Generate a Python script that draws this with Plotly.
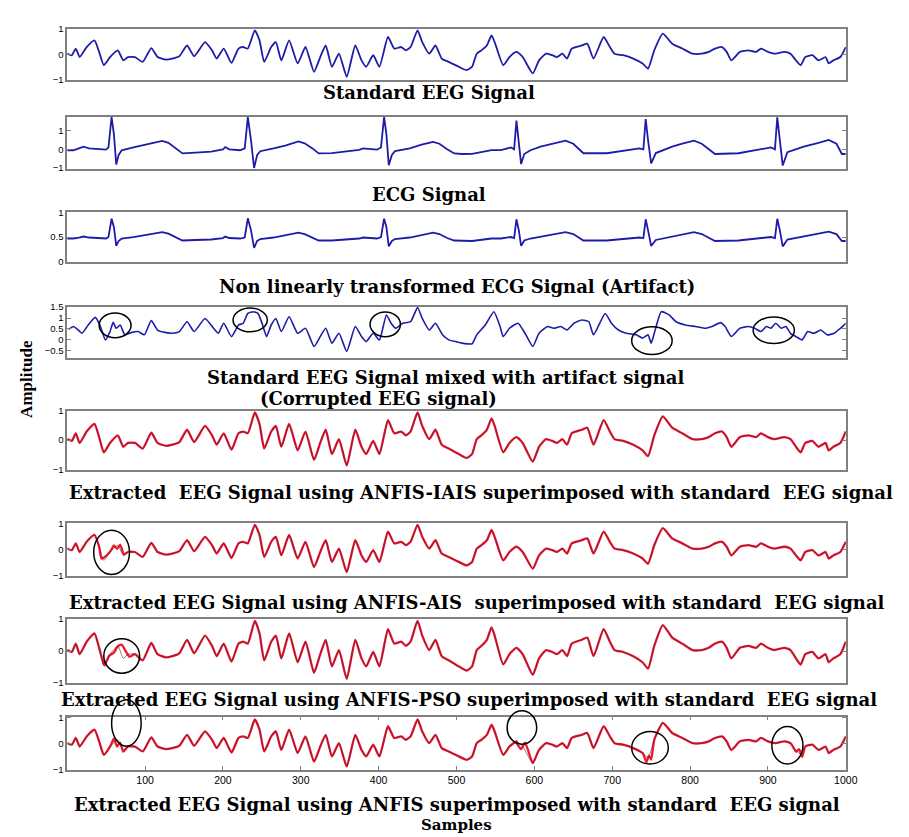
import plotly.graph_objects as go

W, H = 909, 837

# ---------------- data ----------------
eeg_samples = [0, 6, 11, 16, 25, 35, 41, 47, 55, 65, 72, 78, 87, 97, 108, 116, 127, 135, 144, 154,
               163, 177, 186, 192, 201, 211, 220, 226, 232, 241, 247, 253, 262, 268, 275, 285, 296, 306,
               317, 325, 332, 340, 349, 359, 370, 378, 384, 393, 401, 412, 420, 429, 435, 441, 450, 456,
               465, 473, 481, 490, 503, 513, 520, 526, 532, 539, 545, 549, 560, 568, 577, 585, 598, 606,
               615, 623, 629, 636, 642, 648, 661, 668, 676, 689, 697, 703, 714, 727, 739, 746, 754, 765,
               777, 790, 803, 815, 824, 832, 841, 847, 853, 864, 875, 885, 891, 900, 908, 921, 929, 936,
               942, 948, 957, 965, 974, 978, 984, 993, 1000]
eeg_values = [0.03, -0.03, 0.23, -0.10, 0.29, 0.55, 0.10, -0.42, -0.10, 0.16, -0.23, -0.10, -0.10, -0.29,
              0.25, -0.10, -0.20, -0.16, -0.07, 0.35, -0.07, 0.48, 0.16, -0.16, 0.23, -0.33, 0.23, 0.29,
              0.23, 0.94, 0.55, -0.29, 0.29, 0.48, -0.23, 0.55, -0.35, 0.29, -0.68, -0.10, 0.35, -0.48,
              0.03, -0.87, 0.35, -0.23, -0.48, -0.03, -0.48, 0.68, 0.23, 0.29, 0.16, 0.29, 0.94, 0.48,
              0.03, 0.35, -0.16, -0.29, -0.48, -0.61, -0.48, 0.03, 0.16, 0.35, 0.74, 0.48, -0.42, -0.10,
              0.10, -0.10, -0.74, -0.23, 0.03, -0.03, -0.10, 0.03, -0.16, 0.23, 0.35, 0.42, -0.16, 0.68,
              0.29, 0.03, -0.03, -0.16, -0.35, -0.55, 0.16, 0.81, 0.42, 0.23, 0.03, 0.03, 0.10, 0.23,
              0.29, 0.10, -0.23, 0.10, 0.16, 0.10, 0.23, 0.10, 0.03, 0.10, 0.03, -0.23, -0.42, -0.10,
              -0.03, -0.23, -0.10, -0.35, -0.23, -0.10, 0.29]

ecg_samples = [0, 8, 15, 21, 28, 40, 50, 53, 57, 60, 63, 66, 70, 85, 100, 115, 122, 130, 140, 148, 165,
               185, 200, 203, 208, 222, 228, 232, 236, 240, 244, 248, 265, 280, 297, 305, 315, 323, 340,
               360, 375, 380, 398, 403, 407, 410, 413, 417, 421, 440, 455, 470, 478, 488, 497, 507, 520,
               545, 557, 570, 574, 577, 580, 583, 587, 595, 608, 625, 640, 650, 663, 693, 718, 735, 740,
               743, 746, 750, 756, 777, 790, 805, 815, 832, 862, 883, 900, 904, 909, 912, 915, 919, 925,
               946, 965, 978, 988, 995, 1000]
ecg_values = [-0.05, -0.05, 0.05, 0.14, 0.05, 0.00, -0.02, 0.10, 1.72, 0.80, -0.82, -0.30, -0.05, 0.10,
              0.25, 0.38, 0.45, 0.35, 0.05, -0.22, -0.18, -0.12, 0.00, 0.12, 0.00, -0.05, 0.05, 1.72,
              0.50, -1.00, -0.30, -0.10, 0.05, 0.20, 0.42, 0.32, 0.05, -0.22, -0.20, -0.12, -0.03, 0.05,
              -0.02, 0.10, 1.72, 0.80, -0.85, -0.30, -0.10, 0.05, 0.25, 0.40, 0.30, 0.00, -0.22, -0.25,
              -0.24, -0.04, -0.04, 0.10, 0.00, 1.54, 0.50, -0.79, -0.25, -0.05, 0.14, 0.30, 0.46, 0.30,
              -0.21, -0.21, -0.04, 0.05, 0.00, 1.62, 0.50, -0.75, -0.20, 0.14, 0.30, 0.46, 0.30, -0.25,
              -0.21, -0.07, 0.05, 0.10, 0.00, 1.71, 0.60, -0.87, -0.15, 0.14, 0.35, 0.50, 0.30, -0.25,
              -0.25]
artifact_values = [0.47, 0.47, 0.49, 0.51, 0.49, 0.48, 0.47, 0.50, 0.87, 0.70, 0.32, 0.42, 0.47, 0.50,
                   0.54, 0.58, 0.60, 0.57, 0.49, 0.43, 0.44, 0.45, 0.48, 0.51, 0.48, 0.47, 0.49, 0.88,
                   0.64, 0.28, 0.42, 0.46, 0.49, 0.53, 0.59, 0.56, 0.49, 0.43, 0.43, 0.45, 0.47, 0.49,
                   0.47, 0.50, 0.87, 0.70, 0.31, 0.42, 0.46, 0.49, 0.54, 0.59, 0.56, 0.48, 0.43, 0.42,
                   0.42, 0.47, 0.47, 0.50, 0.48, 0.86, 0.64, 0.32, 0.43, 0.47, 0.51, 0.55, 0.60, 0.56,
                   0.43, 0.43, 0.47, 0.49, 0.48, 0.86, 0.64, 0.32, 0.44, 0.51, 0.55, 0.60, 0.56, 0.42,
                   0.43, 0.46, 0.49, 0.50, 0.48, 0.87, 0.66, 0.31, 0.45, 0.51, 0.57, 0.61, 0.56, 0.42,
                   0.42]

corrupted_samples = [2, 8, 15, 19, 27, 36, 42, 49, 55, 59, 63, 68, 74, 82, 91, 99, 108, 116, 127, 135,
                     144, 154, 163, 177, 188, 194, 201, 211, 220, 226, 232, 239, 245, 251, 256, 262, 268,
                     275, 285, 296, 306, 317, 325, 332, 340, 349, 359, 370, 378, 384, 393, 401, 410, 416,
                     422, 431, 441, 450, 456, 465, 473, 482, 490, 499, 507, 520, 526, 537, 548, 556, 560,
                     568, 579, 588, 598, 606, 617, 625, 634, 642, 651, 661, 670, 676, 691, 699, 708, 718,
                     731, 739, 746, 750, 754, 763, 773, 782, 794, 807, 820, 828, 839, 845, 853, 864, 875,
                     883, 891, 898, 904, 910, 917, 923, 929, 936, 944, 951, 959, 968, 976, 985, 993, 1000]
corrupted_values = [0.48, 0.61, 0.42, 0.30, 0.68, 1.03, 0.68, 0.00, 0.38, 0.80, 0.53, 0.68, 0.23, 0.33,
                    0.38, 0.23, 0.88, 0.45, 0.33, 0.30, 0.38, 0.83, 0.38, 0.98, 0.53, 0.30, 0.76, 0.15,
                    0.68, 0.76, 1.21, 1.29, 1.21, 0.68, 0.15, 0.68, 0.98, 0.38, 1.06, 0.30, 0.53, -0.30,
                    0.15, 0.53, -0.15, 0.30, -0.53, 0.61, 0.15, -0.08, 0.30, 0.00, 1.14, 0.76, 0.53, 0.76,
                    0.83, 1.48, 0.98, 0.45, 0.76, 0.23, 0.00, -0.08, -0.15, -0.18, 0.23, 0.68, 1.29, 0.61,
                    0.15, 0.53, 0.76, 0.30, -0.30, 0.30, 0.61, 0.53, 0.61, 0.45, 0.76, 0.91, 0.83, 0.23,
                    1.21, 0.76, 0.45, 0.30, 0.23, 0.08, 0.23, -0.15, 0.30, 1.29, 1.14, 0.83, 0.68, 0.61,
                    0.53, 0.61, 0.79, 0.61, 0.15, 0.53, 0.61, 0.53, 0.38, 0.61, 0.53, 0.76, 0.53, 0.61,
                    0.30, 0.15, 0.00, 0.38, 0.30, 0.45, 0.23, 0.30, 0.53, 0.76]

# extracted signals: deviations from the standard EEG inside the circled windows
ais_dev_samples = [44, 50, 56, 60, 64, 68, 73]
ais_dev_values = [-0.35, -0.25, -0.05, 0.15, 0.02, 0.18, -0.20]
pso_dev_samples = [48, 54, 60, 65, 70, 75, 80]
pso_dev_values = [-0.45, -0.15, -0.05, 0.15, 0.20, 0.00, -0.18]
anfis_dev_samples = [[60, 64, 68, 72, 78], [578, 583, 588, 592], [740, 744, 747, 750], [930, 936, 940, 944]]
anfis_dev_values = [[0.20, -0.10, 0.05, -0.30, -0.10], [0.00, -0.20, 0.05, -0.25],
                    [-0.40, -0.70, -0.45, -0.60], [0.00, -0.30, -0.20, -0.50]]

x_ticks = [100, 200, 300, 400, 500, 600, 700, 800, 900, 1000]

titles = ["Standard EEG Signal", "ECG Signal", "Non linearly transformed ECG Signal (Artifact)",
          "Standard EEG Signal mixed with artifact signal", "(Corrupted EEG signal)",
          "Extracted\u00a0 EEG Signal using ANFIS-IAIS superimposed with standard\u00a0 EEG signal",
          "Extracted EEG Signal using ANFIS-AIS\u00a0 superimposed with standard\u00a0 EEG signal",
          "Extracted EEG Signal using ANFIS-PSO superimposed with standard\u00a0 EEG signal",
          "Extracted EEG Signal using ANFIS superimposed with standard\u00a0 EEG signal"]


def with_deviation(seg_x_list, seg_y_list):
    xs, ys = [], []
    wins = [(sx[0], sx[-1]) for sx in seg_x_list]
    for s, v in zip(eeg_samples, eeg_values):
        if not any(a <= s <= b for a, b in wins):
            xs.append(s); ys.append(v)
    for sx, sy in zip(seg_x_list, seg_y_list):
        xs.extend(sx); ys.extend(sy)
    order = sorted(range(len(xs)), key=lambda i: xs[i])
    return [xs[i] for i in order], [ys[i] for i in order]


# ---------------- layout geometry ----------------
panels_px = [(15, 67), (104, 157), (201, 251), (297, 349), (402, 462), (516, 569), (613, 678), (712, 766)]
yranges = [[-1, 1], [-1.05, 1.75], [0, 1], [-0.85, 1.5], [-1.02, 1], [-1, 1], [-1, 1], [-1, 1.05]]
yticks = [[-1, 0, 1], [-1, 0, 1], [0, 0.5, 1], [-0.5, 0, 0.5, 1, 1.5], [-1, 0, 1], [-1, 0, 1], [-1, 0, 1],
          [-1, 0, 1]]
XL, XR = 60, 849

BLUE = "#1c1ca8"
RED = "#ee1a2e"
DARK = "#5a1a3a"

fig = go.Figure()


def add(x, y, i, color, width, shape="spline", opacity=1.0):
    fig.add_trace(go.Scatter(x=x, y=y, mode="lines", xaxis=f"x{i+1}", yaxis=f"y{i+1}",
                             line=dict(color=color, width=width, shape=shape, smoothing=0.5),
                             opacity=opacity, showlegend=False, hoverinfo="skip"))


add(eeg_samples, eeg_values, 0, BLUE, 1.8)
add(ecg_samples, ecg_values, 1, BLUE, 1.8, "linear")
add(ecg_samples, artifact_values, 2, BLUE, 1.8, "linear")
add(corrupted_samples, corrupted_values, 3, BLUE, 1.6)

# panel 5 : IAIS
add(eeg_samples, eeg_values, 4, RED, 2.3)
add(eeg_samples, eeg_values, 4, DARK, 0.8, opacity=0.75)
# panel 6 : AIS
ax, ay = with_deviation([ais_dev_samples], [ais_dev_values])
add(ax, ay, 5, RED, 2.3)
add(eeg_samples, eeg_values, 5, DARK, 0.8, opacity=0.75)
# panel 7 : PSO
px_, py_ = with_deviation([pso_dev_samples], [pso_dev_values])
add(px_, py_, 6, RED, 2.3)
add(eeg_samples, eeg_values, 6, DARK, 0.8, opacity=0.75)
# panel 8 : ANFIS
nx, ny = with_deviation(anfis_dev_samples, anfis_dev_values)
add(nx, ny, 7, RED, 2.3)
add(eeg_samples, eeg_values, 7, DARK, 0.8, opacity=0.75)

tickfont = dict(family="Liberation Sans", size=9.5, color="black")
lay = {}
for i, (top, bot) in enumerate(panels_px):
    n = "" if i == 0 else str(i + 1)
    last = i == len(panels_px) - 1
    lay[f"xaxis{n}"] = dict(domain=[XL / W, XR / W], range=[0, 1000], anchor=f"y{i+1}",
                            showline=True, mirror="ticks" if last else True, linecolor="#808080", linewidth=1.5,
                            showgrid=False, zeroline=False,
                            tickvals=x_ticks if last else [], ticks="inside" if last else "", ticklen=4,
                            tickcolor="#808080", showticklabels=last, tickfont=dict(tickfont, size=10.5))
    lay[f"yaxis{n}"] = dict(domain=[1 - bot / H, 1 - top / H], range=yranges[i], anchor=f"x{i+1}",
                            showline=True, mirror="ticks", linecolor="#808080", linewidth=1.5,
                            showgrid=False, zeroline=False, tickvals=yticks[i], ticks="inside",
                            ticklen=4, tickcolor="#808080", tickfont=tickfont)
fig.update_layout(**lay)

tfont = dict(family="DejaVu Serif", size=18, color="black")
title_pos = [(427, 80), (427, 183), (455, 276), (443, 368), (375, 390), (479, 485), (475, 596), (467, 695),
             (455, 801)]
annotations = []
for t, (cx, cy) in zip(titles, title_pos):
    annotations.append(dict(text=f"<b>{t}</b>", x=cx / W, y=1 - cy / H, xref="paper", yref="paper",
                            showarrow=False, xanchor="center", yanchor="middle", font=tfont))
annotations.append(dict(text="<b>Samples</b>", x=455 / W, y=1 - 822 / H, xref="paper", yref="paper",
                        showarrow=False, xanchor="center", yanchor="middle",
                        font=dict(family="DejaVu Serif", size=15, color="black")))
annotations.append(dict(text="<b>Amplitude</b>", x=18 / W, y=1 - 370 / H, xref="paper", yref="paper",
                        showarrow=False, xanchor="center", yanchor="middle", textangle=-90,
                        font=dict(family="Liberation Serif", size=17, color="black")))

# circles highlighting artifact regions: (panel, sample0, sample1, pixel_top, pixel_bottom)
circles = [(4, 41, 82, 303, 328), (4, 213, 257, 298, 322), (4, 389, 428, 302, 327), (4, 725, 777, 317, 345),
           (4, 881, 934, 307, 334), (6, 34, 80, 523, 568), (7, 47, 93, 633, 668),
           (8, 57, 95, 695, 742), (8, 565, 603, 706, 740), (8, 725, 772, 727, 760), (8, 905, 945, 722, 760)]
shapes = []
for p, s0, s1, t, b in circles:
    shapes.append(dict(type="circle", xref=f"x{p}", yref="paper", x0=s0, x1=s1, y0=1 - b / H, y1=1 - t / H,
                       line=dict(color="black", width=1.5)))

fig.update_layout(width=W, height=H, margin=dict(l=0, r=0, t=0, b=0), paper_bgcolor="white",
                  plot_bgcolor="white", annotations=annotations, shapes=shapes)
fig.write_html("out.html")
